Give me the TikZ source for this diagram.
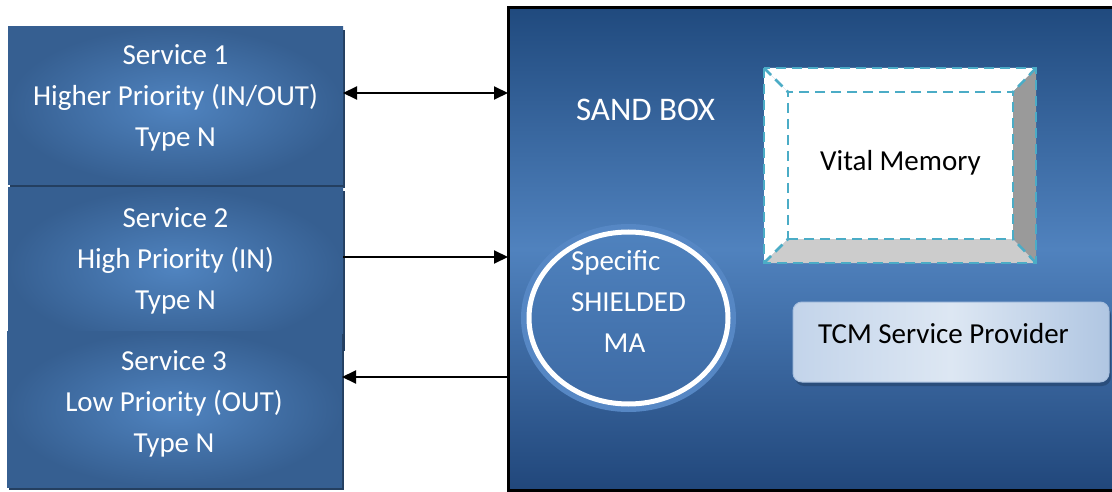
\documentclass[tikz,border=0pt]{standalone}
\usepackage{fontspec}
\setmainfont{Carlito}
\usetikzlibrary{arrows.meta,shadows,shapes.geometric}
\definecolor{svcin}{HTML}{5084C0}
\definecolor{svcout}{HTML}{365F91}
\definecolor{svcshadow}{HTML}{243F60}
\definecolor{sbtop}{HTML}{204A7E}
\definecolor{sbmid}{HTML}{5082BE}
\definecolor{sbbot}{HTML}{21477B}
\definecolor{vmcyan}{HTML}{4BACC6}
\definecolor{vmright}{HTML}{9A9A9A}
\definecolor{vmbottom}{HTML}{CCCCCC}
\definecolor{halo}{HTML}{5687C4}
\definecolor{matop}{HTML}{4F82BE}
\definecolor{mabot}{HTML}{3D6AA4}
\definecolor{tcmleft}{HTML}{C3D4EA}
\definecolor{tcmmid}{HTML}{DDE7F3}
\definecolor{tcmright}{HTML}{B0C6E2}
\definecolor{tcmborder}{HTML}{A7BFDE}
\definecolor{tcmshadow}{HTML}{2A4E7C}
\begin{document}
\begin{tikzpicture}[x=1pt,y=-1pt,
  >={Triangle[length=14pt,width=13pt]},
  svcbox/.style={draw=none, inner sep=0, outer sep=0, anchor=north west,
    inner color=svcin, outer color=svcout,
    general shadow={fill=svcshadow, shadow xshift=2pt, shadow yshift=-3pt}},
  wtext/.style={text=white, font=\fontsize{29}{35}\selectfont, inner sep=0, outer sep=0},
  btext/.style={text=black, font=\fontsize{29}{35}\selectfont, inner sep=0, outer sep=0},
  conn/.style={line width=2pt, draw=black},
  vmline/.style={draw=vmcyan, line width=2.5pt, dash pattern=on 10pt off 6pt}
]
\clip (0,0) rectangle (1112,492);
\fill[white] (0,0) rectangle (1112,492);

% Sand box
\node[draw=black, line width=3pt, inner sep=0, outer sep=0, anchor=north west,
  minimum width=640pt, minimum height=482pt,
  top color=sbtop, bottom color=sbbot, middle color=sbmid] (sb) at (508,8) {};
\node[wtext, font=\fontsize{33}{40}\selectfont, anchor=base west] (sbt) at (576,121) {SAND BOX};

% Services
\node[svcbox, minimum width=335pt, minimum height=158pt] (s1) at (8,27) {};
\node[svcbox, minimum width=335pt, minimum height=160pt] (s2) at (8,188) {};
\node[svcbox, minimum width=335pt, minimum height=156pt] (s3) at (7,331) {};

\node[wtext, anchor=base] (s1a) at (175.5,65) {Service 1};
\node[wtext, anchor=base] (s1b) at (175.5,106) {Higher Priority (IN/OUT)};
\node[wtext, anchor=base] (s1c) at (175.5,147) {Type N};
\node[wtext, anchor=base] (s2a) at (175.5,227) {Service 2};
\node[wtext, anchor=base] (s2b) at (175.5,268) {High Priority (IN)};
\node[wtext, anchor=base] (s2c) at (175.5,309) {Type N};
\node[wtext, anchor=base] (s3a) at (174,370) {Service 3};
\node[wtext, anchor=base] (s3b) at (174,411) {Low Priority (OUT)};
\node[wtext, anchor=base] (s3c) at (174,452) {Type N};

% Arrows
\draw[conn, <->] (s1.east |- 0,93) -- (sb.west |- 0,93);
\draw[conn, ->] (s2.east |- 0,257) -- (sb.west |- 0,257);
\draw[conn, ->] (sb.west |- 0,377) -- (s3.east |- 0,377);

% Vital memory bevel
\coordinate (A) at (764,68);
\coordinate (B) at (1036,68);
\coordinate (C) at (1036,263);
\coordinate (D) at (764,263);
\coordinate (a) at (788,92);
\coordinate (b) at (1013,92);
\coordinate (c) at (1013,239);
\coordinate (d) at (788,239);
\fill[white] (A) -- (B) -- (b) -- (a) -- cycle;
\fill[white] (A) -- (a) -- (d) -- (D) -- cycle;
\fill[vmright] (B) -- (C) -- (c) -- (b) -- cycle;
\fill[vmbottom] (D) -- (d) -- (c) -- (C) -- cycle;
\node[fill=white, vmline, inner sep=0, outer sep=0, anchor=north west,
  minimum width=225pt, minimum height=147pt] (vm) at (a) {};
\draw[vmline] (A) rectangle (C);
\draw[vmline] (A) -- (vm.north west) (B) -- (vm.north east)
  (C) -- (vm.south east) (D) -- (vm.south west);
\node[btext, anchor=base] (vmt) at (900.5,171) {Vital Memory};

% Shielded MA
\node[ellipse, inner sep=0, outer sep=0, minimum width=199pt, minimum height=172pt,
  preaction={draw=halo, line width=16pt},
  top color=matop, bottom color=mabot, draw=white, line width=5pt] (ma) at (628.5,318) {};
\node[wtext, anchor=base west] (ma1) at (571,270) {Specific};
\node[wtext, anchor=base west] (ma2) at (571,311) {SHIELDED};
\node[wtext, anchor=base] (ma3) at (624.5,352) {MA};

% TCM service provider
\node[anchor=north west, inner sep=0, outer sep=0, minimum width=316pt, minimum height=80pt,
  rounded corners=9pt, draw=tcmborder, line width=1pt,
  left color=tcmleft, right color=tcmright, middle color=tcmmid,
  general shadow={fill=tcmshadow, shadow xshift=2pt, shadow yshift=-4pt}] (tcm) at (793,302) {};
\node[btext, anchor=base west] (tcmt) at (818,343) {TCM Service Provider};
\end{tikzpicture}
\end{document}
